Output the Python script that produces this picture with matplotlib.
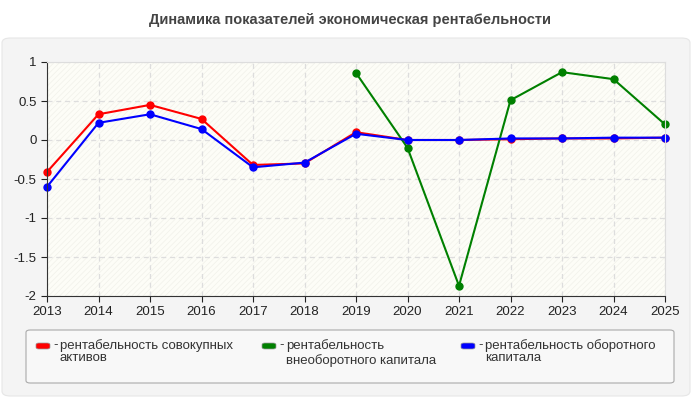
import matplotlib
matplotlib.use("Agg")
import matplotlib.pyplot as plt
from matplotlib.patches import FancyBboxPatch, Rectangle

years = [2013, 2014, 2015, 2016, 2017, 2018, 2019, 2020, 2021, 2022, 2023, 2024, 2025]
red_vals = [-0.41, 0.33, 0.45, 0.27, -0.32, -0.30, 0.10, 0.00, 0.00, 0.01, 0.02, 0.02, 0.03]
green_years = [2019, 2020, 2021, 2022, 2023, 2024, 2025]
green_vals = [0.86, -0.10, -1.87, 0.51, 0.87, 0.78, 0.20]
blue_vals = [-0.60, 0.22, 0.33, 0.14, -0.35, -0.29, 0.08, 0.00, 0.00, 0.02, 0.02, 0.03, 0.03]
labels = ["рентабельность совокупных\nактивов",
          "рентабельность\nвнеоборотного капитала",
          "рентабельность оборотного\nкапитала"]
colors = ["#ff0000", "#008000", "#0000ff"]
title = "Динамика показателей экономическая рентабельности"

plt.rcParams['font.family'] = ['Liberation Sans', 'DejaVu Sans']
plt.rcParams['hatch.linewidth'] = 0.5
fig = plt.figure(figsize=(7, 4), dpi=100)
fig.patch.set_facecolor("white")

W, H = 700, 400
def fx(x): return x / W
def fy(y): return 1 - y / H

panel = FancyBboxPatch((fx(2), fy(396)), fx(688), 358 / H,
                       boxstyle="round,pad=0,rounding_size=0.012",
                       transform=fig.transFigure, facecolor="#f4f4f4",
                       edgecolor="#e6e6e6", lw=0.8, zorder=-10)
fig.add_artist(panel)

fig.text(0.5, fy(20), title, ha="center", va="center", fontsize=10.5,
         fontweight="bold", color="#444444")

ax = fig.add_axes([fx(47), fy(296), fx(665 - 47), (296 - 62) / H])
ax.set_zorder(5)
ax.set_facecolor("#fdfdf7")
ax.add_patch(Rectangle((0, 0), 1, 1, transform=ax.transAxes, facecolor="none",
                       edgecolor="#f1f1ea", hatch="//////", lw=0, zorder=0))
ax.set_xlim(2013, 2025)
ax.set_ylim(-2, 1)
ax.set_xticks(years)
ax.set_yticks([-2, -1.5, -1, -0.5, 0, 0.5, 1])
ax.set_yticklabels(["-2", "-1.5", "-1", "-0.5", "0", "0.5", "1"])
ax.grid(True, color="#dddddd", ls=(0, (4, 3)), lw=0.9)
ax.set_axisbelow(True)
for s in ["top", "right"]:
    ax.spines[s].set_color("#dddddd")
for s in ["left", "bottom"]:
    ax.spines[s].set_color("#333333")
ax.tick_params(axis="both", labelsize=9.5, colors="#222222", length=4, width=0.8)

ax.plot(years, red_vals, color=colors[0], marker="o", ms=5, lw=1.5, zorder=3, clip_on=False)
ax.plot(green_years, green_vals, color=colors[1], marker="o", ms=5, lw=1.5, zorder=4, clip_on=False)
ax.plot(years, blue_vals, color=colors[2], marker="o", ms=5, lw=1.5, zorder=5, clip_on=False)
for sp in ax.spines.values():
    sp.set_zorder(6)

leg = FancyBboxPatch((fx(26), fy(383)), fx(648), 53 / H,
                     boxstyle="round,pad=0,rounding_size=0.006",
                     transform=fig.transFigure, facecolor="#f8f8f8",
                     edgecolor="#aaaaaa", lw=0.8, zorder=1)
fig.add_artist(leg)

xs = [36, 262, 461]
spacings = [1.0, 1.25, 1.0]
for x, lab, c, lsp in zip(xs, labels, colors, spacings):
    fig.add_artist(FancyBboxPatch((fx(x), fy(349)), fx(14), 6 / H,
                                  boxstyle="round,pad=0,rounding_size=0.004",
                                  transform=fig.transFigure, facecolor=c,
                                  edgecolor="#999999", lw=0.5, zorder=2))
    fig.text(fx(x + 17), fy(339), "-", fontsize=9.5, va="top", ha="left", color="#333333", zorder=3)
    fig.text(fx(x + 24), fy(339), lab, fontsize=9.5, va="top", ha="left",
             color="#333333", linespacing=lsp, zorder=3)

fig.savefig("out.png", dpi=100, facecolor=fig.get_facecolor())
